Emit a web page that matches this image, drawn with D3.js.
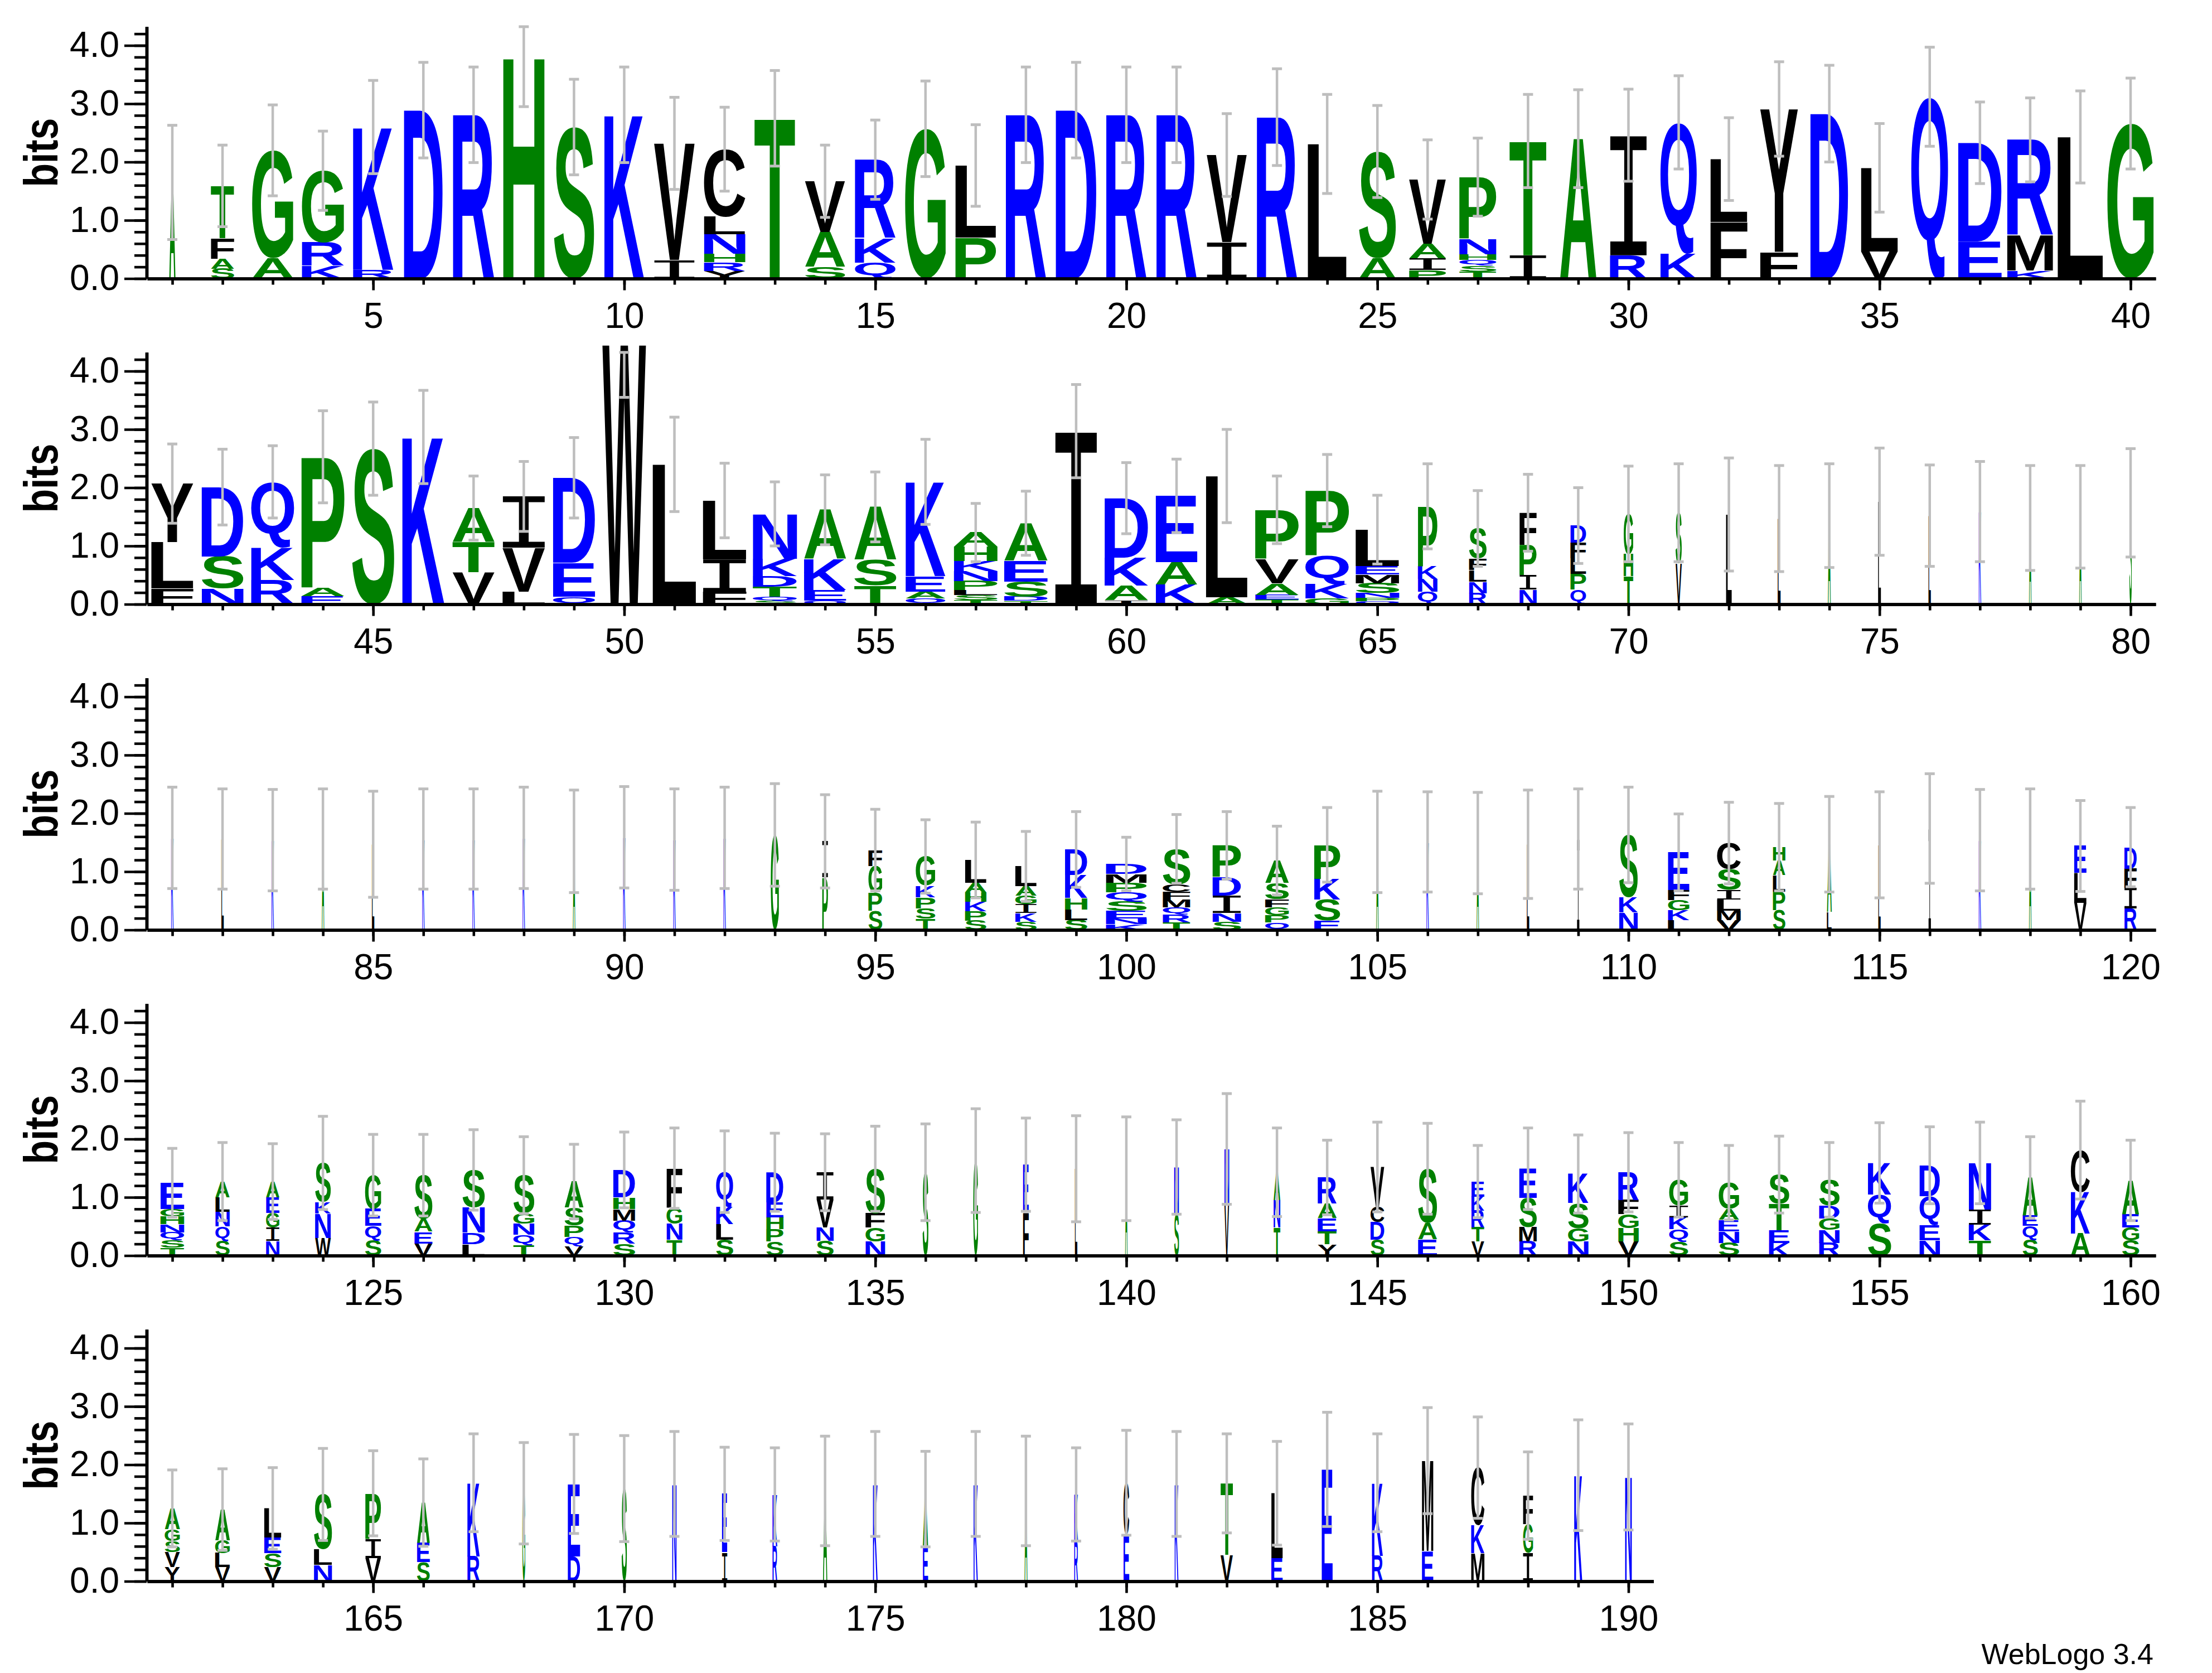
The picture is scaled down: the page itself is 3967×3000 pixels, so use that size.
<!DOCTYPE html>
<html>
<head>
<meta charset="utf-8">
<script src="https://cdn.jsdelivr.net/npm/d3@7"></script>
<style>
  body { margin: 0; background: #fff; }
</style>
</head>
<body>
<script>
// letters of each stack, bottom to top (position = index + 1)
const stackLetters = [
  "A","SAFT","AG","KRG","RK","D","R","H","S","K",
  "IV","YRHNLC","T","SAV","QKR","G","PL","R","D","R",
  "R","IV","R","L","AS","PIAV","TSQHNP","IT","A","RI",
  "KQ","FL","FY","D","VL","Q","ED","KMR","L","G",
  "FLY","NSD","RKQ","EAP","S","K","VTA","LVI","QED","W",
  "L","FIL","SQTDKN","QEKA","TSA","QAEK","TSLPNKHA","TDSEA","I","IAKD",
  "KAE","AL","TEAVP","GKQP","QPNSMEL","QNKP","RNLFS","NIPF","QPLFD","THG",
  "VS","L","L","A","L","L","K","A","A","S",
  "K","L","K","A","L","K","K","K","A","K",
  "K","K","G","PI","SPGF","TSPKG","SPKHAL","SKIGAL","SLHKD","KNESQPMD",
  "TRQMFCS","SNIDP","QPGFSA","ESKP","A","K","A","L","I","NKS",
  "LKGFE","VMLISC","SPLAH","LA","L","I","K","A","VLE","RIFD",
  "TSQNHGE","SQNLA","NIGEA","WNKS","SQEG","VEAS","LDNS","TQNGS","VQPSA","SRQMHD",
  "TNGF","SLKQ","SPHED","SNVI","NGFS","S","G","FE","L","A",
  "SN","VN","TNA","YTEAR","SDCV","EAS","VTRKE","RMSE","NGSK","VHGFR",
  "SQKIG","SNEAG","KETS","RNGDS","SQK","NEQD","TKIN","SQEA","AKC","SGEA",
  "YVSGA","VLGA","VSEL","NLS","VIP","SEA","RK","G","DE","S",
  "N","IE","RK","A","K","EA","K","A","RK","EC",
  "K","VT","EL","E","RK","EM","MKC","IGF","K","N"
];

// height in bits of each letter, same order as stackLetters
const stackHeights = [
  [1.65],[0.17,0.17,0.35,0.9],[0.35,1.85],[0.22,0.4,1.23],[0.15,2.45],[2.89],[2.81],[3.8],[2.6],[2.81],
  [0.32,2.0],[0.13,0.15,0.15,0.33,0.3,1.16],[2.75],[0.2,0.6,0.87],[0.27,0.42,1.35],[2.57],[0.7,1.24],[2.81],[2.89],[2.81],
  [2.81],[0.63,1.49],[2.77],[2.31],[0.35,1.83],[0.15,0.2,0.25,1.1],[0.12,0.1,0.1,0.1,0.26,1.06],[0.4,1.96],[2.4],[0.4,2.06],
  [0.43,2.25],[0.97,1.08],[0.46,2.45],[2.83],[0.46,1.44],[3.12],[0.64,1.69],[0.14,0.6,1.64],[2.43],[2.66],
  [0.27,0.8,1.0],[0.27,0.55,1.19],[0.42,0.56,1.12],[0.14,0.15,2.24],[2.67],[2.87],[0.55,0.52,0.58],[0.22,0.75,0.88],[0.13,0.58,1.46],[4.45],
  [2.4],[0.22,0.55,1.01],[0.06,0.07,0.17,0.18,0.3,0.77],[0.06,0.18,0.53,0.85],[0.32,0.44,0.91],[0.1,0.12,0.26,1.62],[0.07,0.09,0.08,0.16,0.17,0.17,0.25,0.24],[0.06,0.07,0.26,0.36,0.64],[2.97],[0.07,0.25,0.48,1.02],
  [0.34,0.38,1.14],[0.12,2.08],[0.08,0.08,0.2,0.42,0.84],[0.1,0.24,0.5,1.11],[0.05,0.06,0.08,0.17,0.15,0.15,0.62],[0.22,0.22,0.22,1.02],[0.19,0.2,0.2,0.2,0.51],[0.25,0.25,0.52,0.55],[0.25,0.27,0.27,0.27,0.29],[0.48,0.38,0.69],
  [0.7,0.87],[1.54],[1.47],[1.52],[1.76],[1.52],[1.59],[1.48],[1.5],[1.74],
  [1.58],[1.56],[1.54],[1.56],[1.47],[1.56],[1.56],[1.58],[1.52],[1.59],
  [1.55],[1.58],[1.63],[0.9,0.62],[0.33,0.31,0.46,0.27],[0.19,0.18,0.19,0.2,0.5],[0.16,0.16,0.16,0.16,0.17,0.39],[0.14,0.15,0.15,0.15,0.16,0.34],[0.17,0.18,0.2,0.39,0.44],[0.1,0.1,0.13,0.16,0.16,0.16,0.15,0.17],
  [0.13,0.13,0.13,0.13,0.13,0.13,0.61],[0.14,0.15,0.3,0.32,0.54],[0.13,0.12,0.14,0.14,0.28,0.38],[0.16,0.36,0.36,0.58],[1.51],[1.51],[1.49],[1.47],[1.56],[0.3,0.26,1.07],
  [0.17,0.17,0.17,0.17,0.65],[0.17,0.16,0.19,0.17,0.35,0.45],[0.34,0.32,0.28,0.25,0.23],[0.3,1.17],[1.46],[1.74],[1.54],[1.56],[0.46,0.52,0.46],[0.37,0.35,0.33,0.37],
  [0.14,0.12,0.14,0.14,0.13,0.13,0.45],[0.25,0.25,0.25,0.25,0.27],[0.25,0.23,0.25,0.27,0.27],[0.3,0.42,0.2,0.67],[0.26,0.25,0.29,0.58],[0.21,0.2,0.22,0.75],[0.2,0.2,0.43,0.64],[0.18,0.18,0.19,0.18,0.65],[0.16,0.16,0.2,0.3,0.45],[0.2,0.2,0.2,0.2,0.2,0.47],
  [0.27,0.28,0.28,0.67],[0.27,0.27,0.29,0.61],[0.24,0.21,0.21,0.25,0.52],[0.25,0.23,0.48,0.47],[0.24,0.24,0.24,0.77],[1.43],[1.63],[0.74,0.82],[1.49],[1.49],
  [0.7,0.82],[0.9,0.93],[0.48,0.47,0.48],[0.2,0.22,0.22,0.25,0.45],[0.27,0.31,0.26,0.68],[0.28,0.28,0.93],[0.24,0.24,0.29,0.24,0.26],[0.24,0.25,0.5,0.5],[0.24,0.23,0.43,0.5],[0.24,0.23,0.24,0.24,0.48],
  [0.24,0.21,0.21,0.2,0.44],[0.22,0.2,0.2,0.18,0.45],[0.22,0.22,0.45,0.5],[0.22,0.22,0.2,0.22,0.44],[0.55,0.5,0.54],[0.26,0.26,0.5,0.53],[0.26,0.27,0.26,0.8],[0.27,0.24,0.18,0.65],[0.38,0.71,0.72],[0.26,0.22,0.23,0.58],
  [0.24,0.26,0.19,0.2,0.36],[0.24,0.24,0.22,0.53],[0.24,0.24,0.27,0.5],[0.28,0.27,0.94],[0.4,0.33,0.78],[0.33,0.33,0.69],[0.43,1.26],[1.51],[0.43,1.24],[1.59],
  [1.67],[0.5,1.0],[0.6,0.89],[1.55],[1.67],[0.6,0.81],[1.67],[1.55],[0.7,0.79],[0.8,0.89],
  [1.67],[0.45,1.23],[0.4,1.11],[1.92],[0.44,1.25],[0.52,1.55],[0.48,0.48,0.99],[0.49,0.49,0.49],[1.82],[1.79]
];

// stack width as a fraction of a full column (occupancy)
const stackWidths = [
  .13,.49,.87,.89,.85,.82,.87,.87,.85,.84, .86,.87,.86,.85,.86,.86,.86,.85,.86,.85,
  .85,.85,.85,.82,.78,.78,.78,.78,.77,.78, .77,.78,.80,.80,.78,.78,.92,.97,.96,.98,
  .89,.88,.91,.91,.89,.89,.89,.90,.89,.92, .92,.92,.93,.89,.89,.84,.92,.92,.89,.92,
  .88,.88,.92,.92,.92,.41,.37,.36,.33,.20, .13,.12,.06,.06,.06,.05,.05,.05,.05,.05,
  .05,.05,.05,.05,.05,.05,.05,.05,.05,.05, .05,.05,.17,.12,.29,.41,.45,.45,.47,.86,
  .58,.60,.50,.55,.05,.05,.05,.05,.05,.39, .45,.50,.26,.10,.05,.05,.05,.05,.26,.26,
  .50,.30,.28,.33,.34,.38,.47,.44,.40,.46, .33,.36,.36,.36,.41,.12,.10,.12,.05,.05,
  .10,.10,.14,.40,.29,.40,.27,.37,.43,.43, .40,.43,.43,.43,.49,.43,.47,.32,.40,.36,
  .32,.31,.36,.38,.33,.27,.26,.06,.26,.11, .09,.11,.10,.09,.10,.11,.09,.06,.08,.12,
  .08,.26,.24,.23,.23,.24,.28,.21,.17,.14
];

// error bar half-length in bits
const stackErrors = [
  .98,.70,.78,.68,.80,.82,.82,.85,.82,.82, .79,.72,.82,.62,.68,.82,.70,.82,.82,.82,
  .82,.71,.83,.85,.79,.68,.67,.80,.84,.79, .80,.71,.81,.83,.76,.85,.70,.72,.79,.78,
  .68,.65,.62,.79,.80,.80,.55,.60,.69,.90, .81,.64,.55,.60,.60,.73,.50,.55,.80,.61,
  .63,.80,.58,.62,.59,.73,.65,.66,.65,.82, .84,.97,.91,.89,.92,.87,.86,.90,.88,.93,
  .87,.86,.87,.86,.91,.86,.86,.87,.88,.87, .87,.87,.88,.80,.70,.63,.65,.60,.65,.46,
  .59,.58,.59,.64,.87,.86,.87,.93,.86,.82, .66,.70,.75,.82,.91,.94,.87,.86,.78,.68,
  .59,.67,.65,.80,.70,.70,.69,.66,.64,.65, .69,.70,.67,.66,.73,.83,.89,.80,.91,.89,
  .81,.95,.76,.64,.77,.78,.62,.70,.67,.68, .64,.64,.66,.64,.69,.66,.70,.70,.84,.69,
  .66,.70,.70,.79,.73,.75,.84,.87,.85,.91, .90,.80,.80,.94,.90,.82,.90,.94,.80,.90,
  .90,.85,.89,.98,.84,.91,.87,.75,.95,.91
];

const yTicks = [0, 1, 2, 3, 4];
const yTickLabels = ["0.0", "1.0", "2.0", "3.0", "4.0"];

// hydrophobicity colour scheme
const colourGroups = [
  {letters: "RKDENQ", colour: "#0000ff"},
  {letters: "SGHTAP", colour: "#008000"},
  {letters: "YVMCLFIW", colour: "#000000"}
];
function colourOf(ch) {
  const g = colourGroups.find(c => c.letters.includes(ch));
  return g ? g.colour : "#000";
}

const W = 3967, H = 3000;
const perRow = 40, step = 90.05, x0 = 264, bitPx = 104.5, rowGap = 584, firstBase = 499.5;
const maxBits = Math.log2(20);
const fullWidth = 85;

const svg = d3.select('body').append('svg')
  .attr('width', W).attr('height', H)
  .style('background', '#fff');

// glyph ink metrics, so every letter can be stretched to fill its box
// (the I uses a slab-serif mono face with a thin stem, like WebLogo's)
const ctx = document.createElement('canvas').getContext('2d');
function familyOf(ch) { return ch === 'I' ? "'Liberation Mono'" : "'Liberation Sans'"; }
function weightOf(ch) { return ch === 'I' ? 'normal' : 'bold'; }
const metrics = {};
"ACDEFGHIKLMNPQRSTVWY".split('').forEach(ch => {
  ctx.font = weightOf(ch) + " 200px " + familyOf(ch);
  const m = ctx.measureText(ch);
  metrics[ch] = {
    l: m.actualBoundingBoxLeft, a: m.actualBoundingBoxAscent,
    w: m.actualBoundingBoxLeft + m.actualBoundingBoxRight,
    h: m.actualBoundingBoxAscent + m.actualBoundingBoxDescent
  };
});

function drawGlyph(g, ch, bx, by, bw, bh) {
  if (bw <= 0 || bh <= 0) return;
  const m = metrics[ch];
  g.append('text')
    .attr('transform', `translate(${bx},${by}) scale(${bw / m.w},${bh / m.h}) translate(${m.l},${m.a})`)
    .attr('font-family', familyOf(ch))
    .attr('font-weight', weightOf(ch))
    .attr('font-size', 200)
    .attr('fill', colourOf(ch))
    .text(ch);
}

const nPos = stackLetters.length;
const nRows = Math.ceil(nPos / perRow);

for (let r = 0; r < nRows; r++) {
  const first = r * perRow + 1;
  const last = Math.min(nPos, first + perRow - 1);
  const base = firstBase + r * rowGap;
  const row = svg.append('g').attr('class', 'row');

  const x = d3.scaleLinear().domain([first - 0.5, last + 0.5]).range([x0, x0 + (last - first + 1) * step]);
  const y = d3.scaleLinear().domain([0, maxBits]).range([base, base - maxBits * bitPx]);
  const cols = d3.range(first, last + 1);

  // letter stacks
  const marks = row.append('g');
  cols.forEach(p => {
    const i = p - 1;
    const bw = stackWidths[i] * fullWidth;
    let acc = 0;
    stackLetters[i].split('').forEach((ch, k) => {
      const h = stackHeights[i][k];
      drawGlyph(marks, ch, x(p) - bw / 2, y(acc + h), bw, y(acc) - y(acc + h));
      acc += h;
    });
  });

  // error bars on top
  const bars = row.append('g').attr('stroke', '#bebebe');
  cols.forEach(p => {
    const i = p - 1;
    const tot = d3.sum(stackHeights[i]);
    const hi = Math.min(tot + stackErrors[i], maxBits);
    const lo = Math.max(tot - stackErrors[i], 0);
    bars.append('line').attr('x1', x(p)).attr('x2', x(p)).attr('y1', y(hi)).attr('y2', y(lo)).attr('stroke-width', 4.5);
    [hi, lo].forEach(v => {
      bars.append('line').attr('x1', x(p) - 9).attr('x2', x(p) + 9).attr('y1', y(v)).attr('y2', y(v)).attr('stroke-width', 5);
    });
  });

  // y axis: minor then major ticks
  const yMinor = row.append('g').attr('transform', `translate(${x0 - 1},0)`)
    .call(d3.axisLeft(y).tickValues(d3.range(0, 4.21, 0.2)).tickSize(22).tickSizeOuter(0).tickFormat(''));
  const yMajor = row.append('g').attr('transform', `translate(${x0 - 1},0)`)
    .call(d3.axisLeft(y).tickValues(yTicks).tickSize(40).tickPadding(9).tickSizeOuter(0)
      .tickFormat((d, k) => yTickLabels[k]));

  // x axis
  const xMinor = row.append('g').attr('transform', `translate(0,${base})`)
    .call(d3.axisBottom(x).tickValues(cols).tickSize(11).tickSizeOuter(0).tickFormat(''));
  const xMajor = row.append('g').attr('transform', `translate(0,${base})`)
    .call(d3.axisBottom(x).tickValues(cols.filter(p => p % 5 === 0)).tickSize(21).tickPadding(22)
      .tickSizeOuter(0).tickFormat(d3.format('d')));

  [yMinor, yMajor, xMinor, xMajor].forEach(a => {
    a.selectAll('path').attr('stroke', '#000').attr('stroke-width', 5.5);
    a.selectAll('line').attr('stroke', '#000').attr('stroke-width', 4.6);
    a.selectAll('text').attr('font-family', "'Liberation Sans', Arial, sans-serif")
      .attr('font-size', 64).attr('fill', '#000');
  });

  // "bits" label
  row.append('text')
    .attr('transform', `translate(103,${y(maxBits / 2)}) rotate(-90) scale(0.81,1)`)
    .attr('text-anchor', 'middle')
    .attr('font-family', "'Liberation Sans', Arial, sans-serif")
    .attr('font-weight', 'bold')
    .attr('font-size', 86)
    .text('bits');
}

svg.append('text')
  .attr('x', 3862).attr('y', 2984)
  .attr('text-anchor', 'end')
  .attr('font-family', "'Liberation Sans', Arial, sans-serif")
  .attr('font-size', 52)
  .text('WebLogo 3.4');
</script>
</body>
</html>
